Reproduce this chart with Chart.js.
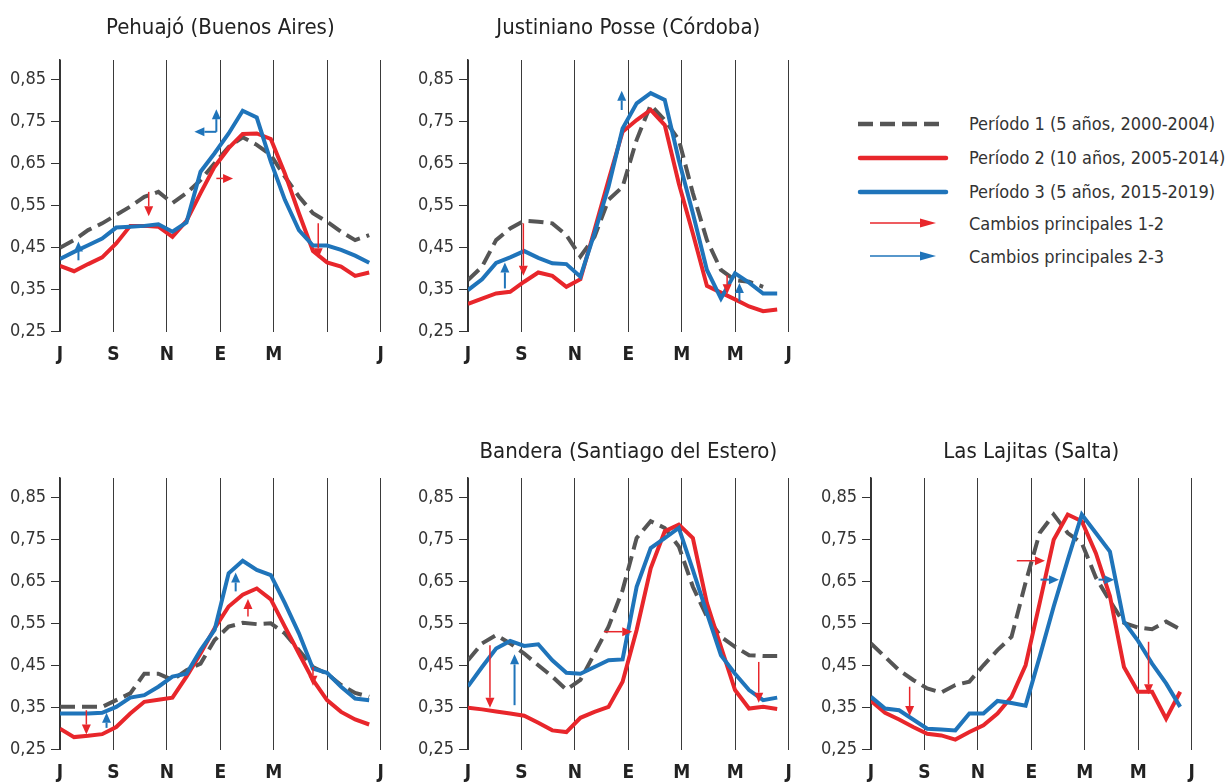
<!DOCTYPE html>
<html><head><meta charset="utf-8">
<script src="https://cdn.jsdelivr.net/npm/chart.js@4"></script>
<style>
html,body{margin:0;padding:0;background:#fff;width:1230px;height:782px;overflow:hidden;position:relative}
canvas{position:absolute}
.lg{position:absolute;left:969px;font-family:'Liberation Sans Narrow','DejaVu Sans Condensed','Roboto Condensed',Roboto,sans-serif;font-size:18px;color:#333;line-height:24px;white-space:nowrap}
svg{position:absolute}
</style></head><body>
<canvas id="c1" width="440" height="380" style="left:0px;top:0px"></canvas>
<canvas id="c2" width="440" height="380" style="left:407.7px;top:0px"></canvas>
<canvas id="c3" width="440" height="380" style="left:0px;top:418px"></canvas>
<canvas id="c4" width="440" height="380" style="left:407.7px;top:418px"></canvas>
<canvas id="c5" width="440" height="380" style="left:810.7px;top:418px"></canvas>

<svg style="left:850px;top:110px" width="110" height="160">
  <line x1="8" y1="14" x2="90" y2="14" stroke="#555" stroke-width="4.5" stroke-dasharray="15 7"/>
  <line x1="10" y1="48" x2="96" y2="48" stroke="#e8262b" stroke-width="4.5" stroke-linecap="round"/>
  <line x1="10" y1="82" x2="96" y2="82" stroke="#1f74ba" stroke-width="4.5" stroke-linecap="round"/>
  <line x1="20" y1="113" x2="72" y2="113" stroke="#e8262b" stroke-width="1.5"/>
  <polygon points="70,108.5 86,113 70,117.5" fill="#e8262b"/>
  <line x1="20" y1="146" x2="72" y2="146" stroke="#1f74ba" stroke-width="1.5"/>
  <polygon points="70,141.5 86,146 70,150.5" fill="#1f74ba"/>
</svg>
<div class="lg" style="top:112px">Período 1 (5 años, 2000-2004)</div>
<div class="lg" style="top:146px">Período 2 (10 años, 2005-2014)</div>
<div class="lg" style="top:180px">Período 3 (5 años, 2015-2019)</div>
<div class="lg" style="top:212px">Cambios principales 1-2</div>
<div class="lg" style="top:245px">Cambios principales 2-3</div>

<script>
// ---- data ----
const DAYS = [0,16,32,48,64,80,96,112,128,144,160,176,192,208,224,240,256,272,288,304,320,336,352];
const X_TICKS = [0,60.83,121.67,182.5,243.33,304.17,365];
const X_LABELS_FULL = ['J','S','N','E','M','M','J'];
const X_LABELS_SHORT = ['J','S','N','E','M','','J'];
const Y_TICKS = [0.25,0.35,0.45,0.55,0.65,0.75,0.85];

// Pehuajó (Buenos Aires)
const P1_GRAY = [0.45,0.468,0.492,0.508,0.528,0.548,0.571,0.583,0.556,0.58,0.611,0.651,0.69,0.713,0.695,0.671,0.619,0.572,0.532,0.512,0.488,0.468,0.48];
const P1_RED  = [0.407,0.394,0.411,0.427,0.46,0.502,0.502,0.50,0.476,0.514,0.58,0.643,0.687,0.721,0.722,0.709,0.627,0.532,0.442,0.415,0.405,0.383,0.391];
const P1_BLUE = [0.423,0.44,0.456,0.472,0.498,0.50,0.502,0.506,0.488,0.51,0.631,0.675,0.722,0.776,0.76,0.655,0.564,0.492,0.455,0.455,0.445,0.431,0.414];
const P1_ARROWS = [[21,0.42,21,0.465,'b'],[101,0.583,101,0.525,'r'],[178,0.726,178,0.78,'b'],[178,0.726,153,0.726,'b'],[178,0.615,197,0.615,'r'],[294,0.508,294,0.425,'r']];

// Justiniano Posse (Córdoba)
const P2_GRAY = [0.373,0.405,0.468,0.496,0.514,0.512,0.508,0.48,0.429,0.476,0.564,0.595,0.707,0.79,0.754,0.707,0.58,0.468,0.397,0.373,0.369,0.357,null];
const P2_RED  = [0.316,0.329,0.341,0.345,0.369,0.391,0.383,0.357,0.375,0.492,0.611,0.726,0.754,0.778,0.742,0.603,0.484,0.359,0.343,0.327,0.31,0.299,0.303];
const P2_BLUE = [0.349,0.375,0.414,0.427,0.442,0.426,0.413,0.411,0.381,0.484,0.595,0.734,0.794,0.818,0.802,0.659,0.532,0.397,0.329,0.389,0.367,0.341,0.341];
const P2_ARROWS = [[42,0.353,42,0.415,'b'],[63,0.508,63,0.383,'r'],[175,0.778,175,0.824,'b'],[295,0.385,295,0.339,'r'],[309,0.322,309,0.366,'b']];

// (sin título)
const P3_GRAY = [0.352,0.352,0.352,0.352,0.368,0.384,0.431,0.431,0.416,0.439,0.455,0.511,0.543,0.552,0.549,0.551,0.527,0.487,0.447,0.431,0.404,0.385,0.376];
const P3_RED  = [0.30,0.28,0.283,0.287,0.304,0.336,0.364,0.369,0.374,0.424,0.479,0.539,0.591,0.619,0.634,0.608,0.543,0.479,0.416,0.368,0.34,0.322,0.31];
const P3_BLUE = [0.336,0.336,0.336,0.338,0.352,0.374,0.38,0.40,0.424,0.431,0.487,0.535,0.67,0.70,0.678,0.666,0.599,0.527,0.443,0.433,0.40,0.372,0.368];
const P3_ARROWS = [[30,0.344,30,0.286,'r'],[53,0.302,53,0.338,'b'],[200,0.627,200,0.672,'b'],[214,0.567,214,0.609,'r'],[288,0.447,288,0.402,'r']];

// Bandera (Santiago del Estero)
const P4_GRAY = [0.463,0.503,0.523,0.503,0.479,0.451,0.424,0.393,0.416,0.479,0.543,0.63,0.754,0.794,0.778,0.734,0.638,0.567,0.519,0.495,0.475,0.473,0.473];
const P4_RED  = [0.35,0.346,0.341,0.336,0.331,0.314,0.296,0.292,0.326,0.34,0.352,0.412,0.535,0.682,0.77,0.786,0.754,0.599,0.495,0.392,0.348,0.352,0.347];
const P4_BLUE = [0.401,0.447,0.491,0.509,0.497,0.501,0.463,0.433,0.431,0.447,0.463,0.465,0.638,0.73,0.754,0.778,0.678,0.575,0.475,0.431,0.392,0.368,0.374];
const P4_ARROWS = [[25,0.499,25,0.35,'r'],[53,0.356,53,0.477,'b'],[155,0.531,187,0.531,'r'],[331,0.459,331,0.362,'r']];

// Las Lajitas (Salta)
const P5_GRAY = [0.503,0.471,0.439,0.416,0.396,0.386,0.404,0.412,0.451,0.487,0.519,0.648,0.766,0.81,0.766,0.742,0.66,0.604,0.552,0.541,0.537,0.555,0.537];
const P5_RED  = [0.366,0.338,0.322,0.304,0.288,0.284,0.274,0.292,0.308,0.336,0.376,0.451,0.599,0.75,0.81,0.794,0.718,0.616,0.447,0.388,0.388,0.324,0.388];
const P5_BLUE = [0.376,0.348,0.344,0.322,0.30,0.298,0.296,0.336,0.336,0.366,0.361,0.355,0.471,0.591,0.702,0.81,0.766,0.722,0.555,0.509,0.455,0.408,0.352];
const P5_ARROWS = [[44,0.40,44,0.33,'r'],[166,0.70,198,0.70,'r'],[193,0.655,214,0.655,'b'],[259,0.655,277,0.655,'b'],[316,0.507,316,0.382,'r']];

// ---- drawing ----
const FONT = "'Liberation Sans Narrow','DejaVu Sans Condensed','Roboto Condensed',Roboto,sans-serif";
const RED = '#e8262b', BLUE = '#1f74ba', GRAY = '#555555';
Chart.defaults.font.family = FONT;

function pts(vals){ return DAYS.map((d,i)=>({x:d,y:vals[i]})); }

function arrowPlugin(list){
  return {
    id:'arrows',
    afterDatasetsDraw(chart){
      const ctx = chart.ctx, xs = chart.scales.x, ys = chart.scales.y;
      list.forEach(a=>{
        const x0=xs.getPixelForValue(a[0]), y0=ys.getPixelForValue(a[1]);
        const x1=xs.getPixelForValue(a[2]), y1=ys.getPixelForValue(a[3]);
        const col = a[4]==='r'?RED:BLUE;
        const ang = Math.atan2(y1-y0,x1-x0), hl=10, hw=4.5;
        const bx = x1-Math.cos(ang)*hl, by = y1-Math.sin(ang)*hl;
        ctx.save();
        ctx.strokeStyle=col; ctx.fillStyle=col; ctx.lineWidth=a[4]==='r'?1.5:2;
        ctx.beginPath(); ctx.moveTo(x0,y0); ctx.lineTo(bx,by); ctx.stroke();
        ctx.beginPath();
        ctx.moveTo(x1,y1);
        ctx.lineTo(bx-Math.sin(ang)*hw, by+Math.cos(ang)*hw);
        ctx.lineTo(bx+Math.sin(ang)*hw, by-Math.cos(ang)*hw);
        ctx.closePath(); ctx.fill();
        ctx.restore();
      });
    }
  };
}

function titlePlugin(text, cy){
  return {
    id:'panelTitle',
    afterDraw(chart){
      if(!text) return;
      const ctx = chart.ctx, a = chart.chartArea;
      ctx.save();
      ctx.font = "500 22px " + FONT;
      ctx.fillStyle = '#222';
      ctx.textAlign = 'center';
      ctx.textBaseline = 'middle';
      ctx.fillText(text, (a.left + a.right)/2, cy);
      ctx.restore();
    }
  };
}

function makeChart(id, title, gray, red, blue, arrows, xLabels, titleY){
  new Chart(document.getElementById(id), {
    type:'line',
    data:{datasets:[
      {data:pts(gray), borderColor:GRAY, borderWidth:4, borderDash:[15,7], pointRadius:0, tension:0, spanGaps:true, order:3},
      {data:pts(red), borderColor:RED, borderWidth:4, pointRadius:0, tension:0, spanGaps:true, order:2},
      {data:pts(blue), borderColor:BLUE, borderWidth:4, pointRadius:0, tension:0, spanGaps:true, order:1}
    ]},
    options:{
      responsive:false, animation:false,
      layout:{padding:{left:0,right:59.4,top:60,bottom:8.3}},
      plugins:{
        legend:{display:false}, tooltip:{enabled:false}, title:{display:false}
      },
      scales:{
        x:{type:'linear', min:0, max:365,
          afterBuildTicks:s=>{ s.ticks = X_TICKS.map(v=>({value:v})); },
          afterFit:s=>{ s.height = 40; },
          ticks:{autoSkip:false, maxRotation:0, padding:12, color:'#222', font:{size:19, weight:'bold'},
            callback:(v,i)=>xLabels[i]},
          grid:{color:'#3a3a3a', lineWidth:1, drawTicks:false},
          border:{display:false}
        },
        y:{min:0.25, max:0.897,
          afterBuildTicks:s=>{ s.ticks = Y_TICKS.map(v=>({value:v})); },
          afterFit:s=>{ s.width = 60; },
          ticks:{padding:5, color:'#333', font:{size:18},
            callback:v=>v.toFixed(2).replace('.',',')},
          grid:{drawOnChartArea:false, drawTicks:true, tickLength:9, color:'#333'},
          border:{display:true, color:'#333', width:1.5}
        }
      }
    },
    plugins:[arrowPlugin(arrows), titlePlugin(title, titleY)]
  });
}

makeChart('c1','Pehuajó (Buenos Aires)',P1_GRAY,P1_RED,P1_BLUE,P1_ARROWS,X_LABELS_SHORT,28);
makeChart('c2','Justiniano Posse (Córdoba)',P2_GRAY,P2_RED,P2_BLUE,P2_ARROWS,X_LABELS_FULL,28);
makeChart('c3','',P3_GRAY,P3_RED,P3_BLUE,P3_ARROWS,X_LABELS_SHORT,34);
makeChart('c4','Bandera (Santiago del Estero)',P4_GRAY,P4_RED,P4_BLUE,P4_ARROWS,X_LABELS_FULL,34);
makeChart('c5','Las Lajitas (Salta)',P5_GRAY,P5_RED,P5_BLUE,P5_ARROWS,X_LABELS_FULL,34);
</script>
</body></html>
